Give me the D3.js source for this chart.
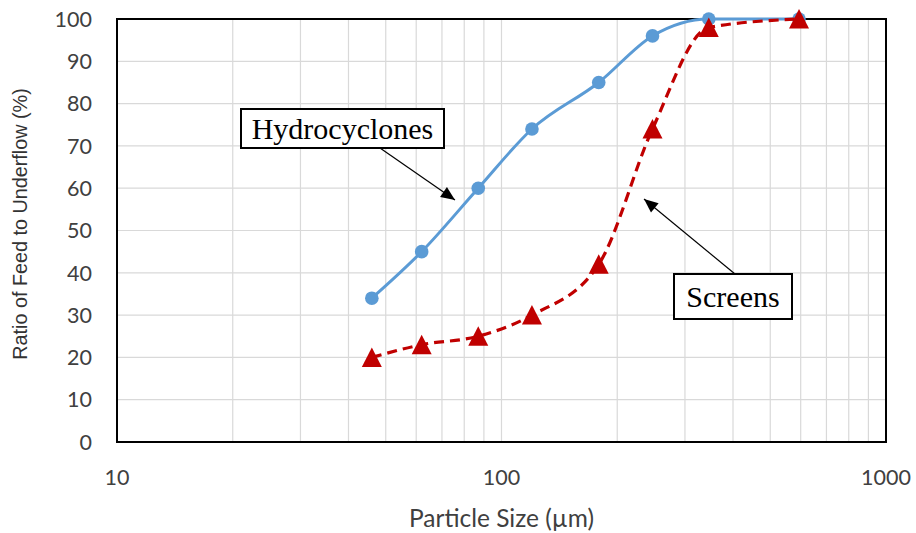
<!DOCTYPE html>
<html>
<head>
<meta charset="utf-8">
<script src="https://cdn.jsdelivr.net/npm/d3@7"></script>
<style>
  body { margin: 0; background: #fff; }
  svg text { font-family: Lato, "Open Sans", sans-serif; }
</style>
</head>
<body>
<div id="chart"></div>
<script>
// particle sizes (um) and % of feed reporting to underflow
var sizes = [46, 62, 87, 120, 179, 247, 346, 594];
var hydrocyclones = [34, 45, 60, 74, 85, 96, 100, 100];
var screens = [20, 23, 25, 30, 42, 74, 98, 100];
var yTicks = [0, 10, 20, 30, 40, 50, 60, 70, 80, 90, 100];
var xTicks = [10, 100, 1000];

var W = 916, H = 533;
var margin = {top: 19, right: 30, bottom: 91, left: 117},
    width = W - margin.left - margin.right,
    height = H - margin.top - margin.bottom;

var svg = d3.select("#chart").append("svg")
    .attr("width", W).attr("height", H);
var g = svg.append("g")
    .attr("transform", "translate(" + margin.left + "," + margin.top + ")");

var x = d3.scaleLog().domain([10, 1000]).range([0, width]);
var y = d3.scaleLinear().domain([0, 100]).range([height, 0]);

// minor log grid
var minor = [];
for (var d = 10; d < 1000; d *= 10)
  for (var k = 2; k <= 9; k++) minor.push(d * k);

g.selectAll(".vgrid").data(minor.concat([100])).enter().append("line")
  .attr("x1", function(d) { return x(d); }).attr("x2", function(d) { return x(d); })
  .attr("y1", 0).attr("y2", height)
  .attr("stroke", "#d9d9d9").attr("stroke-width", 1.2);

g.selectAll(".hgrid").data(yTicks).enter().append("line")
  .attr("x1", 0).attr("x2", width)
  .attr("y1", function(d) { return y(d); }).attr("y2", function(d) { return y(d); })
  .attr("stroke", "#d9d9d9").attr("stroke-width", 1.2);

g.append("rect").attr("width", width).attr("height", height)
  .attr("fill", "none").attr("stroke", "#000").attr("stroke-width", 2);

// tick labels
g.selectAll(".ylab").data(yTicks).enter().append("text")
  .attr("x", -25).attr("y", function(d) { return y(d); })
  .attr("dy", "0.36em").attr("text-anchor", "end")
  .style("font-size", "21.5px").style("fill", "#404040")
  .text(function(d) { return d; });

g.selectAll(".xlab").data(xTicks).enter().append("text")
  .attr("x", function(d) { return x(d); }).attr("y", height + 35)
  .attr("dy", "0.36em").attr("text-anchor", "middle")
  .style("font-size", "21.5px").style("fill", "#404040")
  .text(function(d) { return d; });

// axis titles
g.append("text")
  .attr("transform", "rotate(-90)")
  .attr("x", -205).attr("y", -90)
  .attr("text-anchor", "middle")
  .style("font-family", "'Liberation Sans', Arial, sans-serif")
  .style("font-size", "19.8px").style("fill", "#333")
  .text("Ratio of Feed to Underflow (%)");

g.append("text")
  .attr("x", width / 2).attr("y", 508)
  .attr("text-anchor", "middle")
  .style("font-size", "24.5px").style("fill", "#404040")
  .text("Particle Size (\u00b5m)");

var line = function(vals) {
  return d3.line()
    .x(function(d, i) { return x(sizes[i]); })
    .y(function(d) { return y(d); })
    .curve(d3.curveMonotoneX)(vals);
};

// hydrocyclones
g.append("path").attr("d", line(hydrocyclones))
  .attr("fill", "none").attr("stroke", "#5B9BD5").attr("stroke-width", 3);
g.selectAll(".hc").data(hydrocyclones).enter().append("circle")
  .attr("cx", function(d, i) { return x(sizes[i]); })
  .attr("cy", function(d) { return y(d); })
  .attr("r", 6.8).attr("fill", "#5B9BD5");

// screens
g.append("path").attr("d", line(screens))
  .attr("fill", "none").attr("stroke", "#C00000").attr("stroke-width", 3.2)
  .attr("stroke-dasharray", "10,6");
g.selectAll(".sc").data(screens).enter().append("path")
  .attr("transform", function(d, i) { return "translate(" + x(sizes[i]) + "," + y(d) + ")"; })
  .attr("d", "M0,-10L10,9.5L-10,9.5Z")
  .attr("fill", "#C00000");

// callouts
function callout(label, bx, by, bw, bh, ax, ay, tx, ty) {
  svg.append("line")
    .attr("x1", ax).attr("y1", ay).attr("x2", tx).attr("y2", ty)
    .attr("stroke", "#000").attr("stroke-width", 1.2);
  var ang = Math.atan2(ty - ay, tx - ax);
  var L = 14, hw = 6;
  var p = [[tx, ty],
    [tx - L * Math.cos(ang) + hw * Math.sin(ang), ty - L * Math.sin(ang) - hw * Math.cos(ang)],
    [tx - L * Math.cos(ang) - hw * Math.sin(ang), ty - L * Math.sin(ang) + hw * Math.cos(ang)]];
  svg.append("path").attr("d", "M" + p.join("L") + "Z").attr("fill", "#000");
  svg.append("rect").attr("x", bx).attr("y", by).attr("width", bw).attr("height", bh)
    .attr("fill", "#fff").attr("stroke", "#000").attr("stroke-width", 2);
  svg.append("text").attr("x", bx + bw / 2).attr("y", by + bh / 2)
    .attr("dy", "0.35em").attr("text-anchor", "middle")
    .style("font-family", "'Liberation Serif', 'Times New Roman', serif")
    .style("font-size", "30px").style("fill", "#000")
    .text(label);
}
callout("Hydrocyclones", 241, 109, 203, 39, 380, 148, 455, 200);
callout("Screens", 674, 274, 118, 45, 735, 274, 644, 199);
</script>
</body>
</html>
